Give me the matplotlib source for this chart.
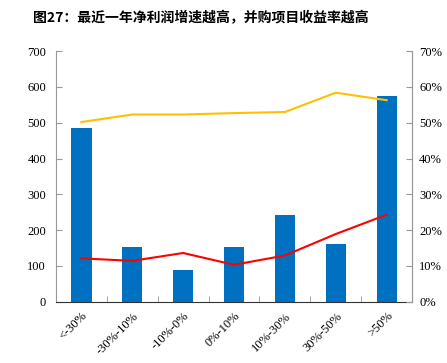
import matplotlib.pyplot as plt
import numpy as np

plt.rcParams['font.family'] = ['Liberation Serif', 'Noto Sans CJK SC']

categories = ['<-30%', '-30%-10%', '-10%-0%', '0%-10%', '10%-30%', '30%-50%', '>50%']
counts = [484, 153, 88, 152, 242, 161, 575]
yellow_pct = [50.2, 52.3, 52.3, 52.7, 53.0, 58.4, 56.3]
red_pct = [12.1, 11.4, 13.6, 10.3, 12.9, 18.9, 24.3]

x = np.arange(len(categories))
axcol = '#999999'

fig = plt.figure(figsize=(4.47, 3.63), dpi=100)
ax = fig.add_axes([0.125, 0.169, 0.797, 0.690])
ax.bar(x, counts, width=0.4, color='#0070C0', zorder=2)
ax.set_xlim(-0.5, len(categories) - 0.5)
ax.set_ylim(0, 700)
ax.set_yticks(range(0, 701, 100))
ax.set_xticks(x)
ax.set_xticklabels(categories, rotation=45, ha='right', rotation_mode='anchor')
ax.set_xticks(np.arange(0.5, len(categories) - 1, 1), minor=True)
ax.tick_params(axis='x', which='major', length=0, pad=6, labelsize=9)
ax.tick_params(axis='x', which='minor', length=4, direction='in', color=axcol)
ax.tick_params(axis='y', length=4, direction='in', color=axcol, labelsize=9, pad=7)
ax.spines['top'].set_visible(False)
for s in ['left', 'right']:
    ax.spines[s].set_color(axcol)
ax.spines['bottom'].set_color('#333333')

ax2 = ax.twinx()
ax2.plot(x, yellow_pct, color='#FFC000', lw=1.5, zorder=3)
ax2.plot(x, red_pct, color='#FF0000', lw=1.5, zorder=3)
ax2.set_ylim(0, 70)
ax2.set_yticks(range(0, 71, 10))
ax2.set_yticklabels([f'{v}%' for v in range(0, 71, 10)])
ax2.tick_params(axis='y', length=4, direction='in', color=axcol, labelsize=9, pad=5)
ax2.spines['top'].set_visible(False)
ax2.spines['right'].set_color(axcol)
ax2.spines['left'].set_visible(False)
ax2.spines['bottom'].set_visible(False)

fig.text(0.074, 0.95, '图27：最近一年净利润增速越高，并购项目收益率越高',
         fontsize=10, fontweight='bold', family=['Noto Sans CJK SC'], va='center')

fig.savefig('out.png', dpi=100)
